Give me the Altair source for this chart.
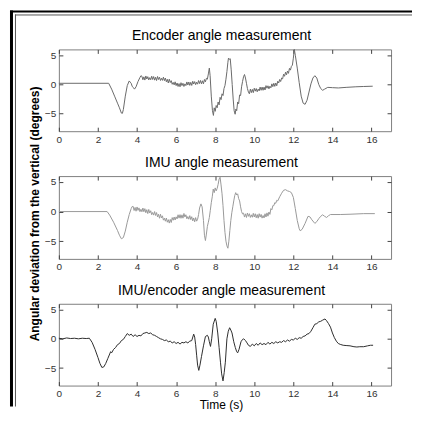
import altair as alt
import pandas as pd

# ---------------- data ----------------
ENCODER = [
    (0, 0.2), (2.55, 0.2), (2.7, -0.8), (2.85, -2.0), (3.0, -3.2), (3.1, -4.0), (3.2, -4.9),
    (3.25, -4.95), (3.3, -4.3), (3.4, -2.0), (3.5, -0.2), (3.6, 0.6), (3.65, 0.4), (3.7, 0.2),
    (3.75, -0.3), (3.8, -0.5), (3.87, -0.8), (3.95, -0.4), (4.05, 0.5), (4.15, 1.2), (4.2, 1.5),
    (4.25, 1.4), (4.3, 0.8), (4.35, 1.3), (4.4, 0.75), (4.45, 1.45), (4.5, 0.93), (4.55, 1.33),
    (4.6, 0.77), (4.65, 1.17), (4.7, 0.81), (4.75, 1.41), (4.8, 0.85), (4.85, 1.35), (4.9, 0.74),
    (4.95, 1.23), (5.0, 0.67), (5.05, 1.36), (5.1, 0.85), (5.15, 1.24), (5.2, 0.68), (5.25, 1.06),
    (5.3, 0.7), (5.35, 1.25), (5.4, 0.65), (5.45, 1.1), (5.5, 0.45), (5.55, 0.88), (5.6, 0.25),
    (5.65, 0.9), (5.7, 0.33), (5.75, 0.65), (5.8, 0.03), (5.85, 0.35), (5.9, -0.07), (5.95, 0.45),
    (6.0, -0.2), (6.05, 0.25), (6.1, -0.35), (6.15, 0.15), (6.2, -0.4), (6.25, 0.3), (6.3, -0.2),
    (6.35, 0.2), (6.4, -0.35), (6.45, 0.1), (6.5, -0.2), (6.55, 0.43), (6.6, -0.1), (6.65, 0.42),
    (6.7, -0.16), (6.75, 0.36), (6.8, -0.17), (6.85, 0.55), (6.9, 0.07), (6.95, 0.49), (7.0, -0.04),
    (7.05, 0.38), (7.1, 0.05), (7.15, 0.67), (7.2, 0.15), (7.25, 0.68), (7.3, 0.1), (7.35, 0.63),
    (7.4, 0.11), (7.45, 0.85), (7.5, 0.45), (7.55, 1.05), (7.6, 0.9), (7.65, 1.8), (7.7, 2.8),
    (7.74, 1.5), (7.8, -2.0), (7.86, -4.5), (7.91, -5.3), (7.95, -4.0), (8.0, -4.6), (8.05, -3.6),
    (8.1, -4.0), (8.15, -3.0), (8.2, -3.5), (8.25, -2.2), (8.3, -2.6), (8.35, -1.6), (8.4, -1.9),
    (8.45, -0.7), (8.5, -0.2), (8.55, 0.9), (8.6, 2.2), (8.65, 3.8), (8.68, 4.5), (8.72, 4.3),
    (8.77, 4.4), (8.82, 2.5), (8.87, 0.0), (8.92, -2.5), (8.97, -4.5), (9.02, -5.1), (9.06, -4.2),
    (9.1, -4.5), (9.15, -3.0), (9.2, -3.3), (9.25, -1.8), (9.3, -1.9), (9.35, -0.4), (9.4, 0.5),
    (9.45, 1.3), (9.5, 1.7), (9.55, 1.1), (9.6, 0.2), (9.65, -0.7), (9.7, -1.3), (9.75, -1.6),
    (9.8, -0.8), (9.85, -1.4), (9.9, -0.85), (9.95, -1.4), (10.0, -0.65), (10.05, -1.15),
    (10.1, -0.7), (10.15, -1.25), (10.2, -0.8), (10.25, -1.1), (10.3, -0.45), (10.35, -1.0),
    (10.4, -0.45), (10.45, -1.0), (10.5, -0.45), (10.55, -0.95), (10.6, -0.2), (10.65, -0.65),
    (10.7, -0.23), (10.75, -0.75), (10.8, -0.3), (10.85, -0.58), (10.9, 0.1), (10.95, -0.38),
    (11.0, 0.2), (11.05, -0.33), (11.1, 0.25), (11.15, -0.23), (11.2, 0.55), (11.25, 0.25),
    (11.3, 0.85), (11.35, 0.5), (11.4, 1.1), (11.45, 0.95), (11.5, 1.75), (11.55, 1.4),
    (11.6, 2.1), (11.65, 1.65), (11.7, 2.3), (11.75, 1.9), (11.8, 2.75), (11.85, 2.45),
    (11.9, 3.1), (11.95, 3.3), (12.0, 4.5), (12.05, 6.0), (12.1, 5.0), (12.2, 2.8), (12.3, 0.3),
    (12.4, -2.0), (12.5, -3.2), (12.6, -3.4), (12.7, -2.7), (12.8, -1.3), (12.9, 0.1), (13.0, 1.1),
    (13.1, 1.5), (13.2, 1.1), (13.3, 0.0), (13.4, -0.7), (13.5, -1.0), (13.6, -0.8), (13.76, -0.5),
    (14.0, -0.55), (14.3, -0.6), (14.7, -0.5), (15.2, -0.4), (15.6, -0.35), (16.06, -0.3),
]

IMU = [
    (0, 0.0), (2.47, 0.0), (2.6, -0.6), (2.8, -1.8), (3.0, -3.2), (3.1, -4.0), (3.2, -4.6),
    (3.3, -4.4), (3.4, -3.3), (3.5, -1.8), (3.6, -0.5), (3.7, 0.5), (3.75, 0.85),
    (3.8, 0.88), (3.85, 0.18), (3.9, 0.7), (3.95, 0.06), (4.0, 0.78), (4.05, 0.2), (4.1, 0.62),
    (4.15, -0.02), (4.2, 0.39), (4.25, -0.03), (4.3, 0.6), (4.35, -0.03), (4.4, 0.49), (4.45, -0.2),
    (4.5, 0.32), (4.55, -0.34), (4.6, 0.36), (4.65, -0.25), (4.7, 0.14), (4.75, -0.53), (4.8, -0.15),
    (4.85, -0.6), (4.9, 0.0), (4.95, -0.66), (5.0, -0.17), (5.05, -0.91), (5.1, -0.45), (5.15, -1.13),
    (5.2, -0.45), (5.25, -1.09), (5.3, -0.72), (5.35, -1.45), (5.4, -1.12), (5.45, -1.63),
    (5.5, -1.09), (5.55, -1.8), (5.6, -1.37), (5.65, -1.95), (5.7, -1.33), (5.75, -1.85),
    (5.8, -1.02), (5.85, -1.47), (5.9, -0.92), (5.95, -1.43), (6.0, -0.89), (6.05, -1.24),
    (6.1, -0.54), (6.15, -1.11), (6.2, -0.52), (6.25, -1.14), (6.3, -0.55), (6.35, -1.12),
    (6.4, -0.32), (6.45, -0.93), (6.5, -0.54), (6.55, -1.22), (6.6, -0.84), (6.65, -1.29),
    (6.7, -0.69), (6.75, -1.36), (6.8, -0.87), (6.85, -1.58), (6.9, -1.08), (6.95, -1.73),
    (7.0, -1.02), (7.05, -1.62), (7.1, -1.3), (7.15, -0.5), (7.2, 0.6), (7.27, 1.3), (7.33, 0.8),
    (7.4, -1.5), (7.45, -4.0), (7.5, -4.9), (7.55, -3.8), (7.6, -2.5), (7.65, -1.8), (7.7, -1.0),
    (7.75, 0.2), (7.8, 1.5), (7.85, 2.5), (7.9, 3.8), (7.95, 3.2), (8.0, 4.0), (8.05, 3.5),
    (8.1, 3.9), (8.15, 4.6), (8.2, 5.5), (8.25, 5.8), (8.3, 4.5), (8.35, 3.0), (8.4, 1.0),
    (8.45, -1.5), (8.5, -3.5), (8.55, -5.0), (8.6, -5.8), (8.65, -6.2), (8.7, -5.0), (8.75, -3.2),
    (8.8, -1.5), (8.85, -0.2), (8.9, 0.8), (8.95, 1.8), (9.0, 2.7), (9.05, 3.2), (9.1, 2.8),
    (9.15, 3.0), (9.2, 2.2), (9.25, 1.8), (9.3, 0.8), (9.35, 0.0), (9.4, -0.4),
    (9.45, -0.27), (9.5, -0.93), (9.55, -0.38), (9.6, -1.0), (9.65, -0.24), (9.7, -0.81),
    (9.75, -0.36), (9.8, -0.99), (9.85, -0.55), (9.9, -0.96), (9.95, -0.3), (10.0, -0.92),
    (10.05, -0.37), (10.1, -1.05), (10.15, -0.5), (10.2, -1.12), (10.25, -0.36), (10.3, -0.93),
    (10.35, -0.48), (10.4, -1.11), (10.45, -0.67), (10.5, -1.08), (10.55, -0.37), (10.6, -0.92),
    (10.65, -0.22), (10.7, -0.78), (10.75, -0.08), (10.8, -0.48), (10.85, 0.5), (10.9, 0.3),
    (10.95, 1.0), (11.0, 1.0), (11.05, 1.5), (11.1, 1.4), (11.15, 1.9), (11.2, 1.8), (11.3, 2.5),
    (11.4, 3.1), (11.5, 3.6), (11.6, 3.7), (11.7, 3.5), (11.8, 3.4), (11.9, 3.2), (12.0, 2.4),
    (12.1, 0.5), (12.2, -1.5), (12.3, -2.9), (12.35, -3.25), (12.45, -3.0), (12.6, -2.0),
    (12.75, -0.8), (12.85, -0.9), (12.95, -1.4), (13.1, -2.0), (13.2, -1.7), (13.3, -1.2),
    (13.4, -0.8), (13.5, -0.55), (13.6, -0.8), (13.7, -1.0), (13.8, -0.7), (13.9, -0.5),
    (14.4, -0.5), (14.9, -0.45), (15.6, -0.35), (16.17, -0.35),
]

FUSED = [
    (0, 0.1), (0.2, 0.0), (0.4, 0.15), (0.6, 0.05), (0.8, 0.1), (1.0, 0.0), (1.2, 0.1), (1.4, 0.05),
    (1.56, 0.1), (1.7, -0.6), (1.85, -1.8), (2.0, -3.2), (2.1, -4.2), (2.2, -4.9), (2.3, -4.8),
    (2.4, -4.2), (2.5, -3.4), (2.6, -2.6), (2.65, -2.2), (2.7, -2.4), (2.8, -1.8), (2.9, -1.5),
    (3.0, -1.0), (3.1, -0.8), (3.2, -0.3), (3.3, -0.1), (3.4, 0.4), (3.5, 0.9), (3.6, 0.6),
    (3.7, 0.8), (3.8, 0.4), (3.9, 0.7), (4.0, 0.4), (4.1, 0.6), (4.2, 0.5), (4.3, 0.9), (4.4, 1.0),
    (4.5, 1.1), (4.6, 0.9), (4.7, 1.0), (4.8, 0.7), (4.9, 0.6), (5.0, 0.4), (5.1, 0.2), (5.2, 0.0),
    (5.3, -0.1), (5.4, -0.3), (5.5, -0.2), (5.6, -0.5), (5.7, -0.4), (5.8, -0.7), (5.9, -0.5),
    (6.0, -0.8), (6.1, -0.6), (6.2, -0.9), (6.3, -0.6), (6.4, -0.7), (6.5, -0.5), (6.6, -0.7),
    (6.7, -0.4), (6.8, -0.3), (6.9, 0.8), (6.95, 0.3), (7.0, -1.0), (7.05, -2.8), (7.1, -4.5),
    (7.16, -5.4), (7.22, -4.5), (7.3, -3.0), (7.4, -1.2), (7.5, 0.4), (7.6, 0.6), (7.65, 0.3),
    (7.7, -0.5), (7.76, -1.3), (7.82, 0.0), (7.9, 2.5), (8.0, 3.5), (8.05, 3.0), (8.13, 1.0),
    (8.2, -1.5), (8.27, -4.0), (8.33, -6.0), (8.4, -7.2), (8.46, -5.8), (8.52, -4.0), (8.6, 0.0),
    (8.67, 1.3), (8.74, 1.9), (8.8, 1.5), (8.86, 1.0), (8.95, -0.5), (9.03, -1.5), (9.1, -2.2),
    (9.15, -2.4), (9.22, -1.8), (9.32, -0.5), (9.4, -0.1), (9.46, 0.0), (9.55, -0.3), (9.63, -0.7),
    (9.7, -1.1), (9.8, -1.3), (9.9, -0.9), (10.0, -1.2), (10.1, -0.8), (10.2, -1.1), (10.3, -0.7),
    (10.4, -1.0), (10.5, -0.8), (10.6, -1.0), (10.7, -0.6), (10.8, -0.9), (10.9, -0.6), (11.0, -0.8),
    (11.1, -0.5), (11.2, -0.7), (11.3, -0.5), (11.4, -0.6), (11.5, -0.3), (11.6, -0.5), (11.7, -0.2),
    (11.8, -0.4), (11.9, -0.1), (12.0, -0.2), (12.1, 0.1), (12.2, -0.1), (12.3, 0.2), (12.4, 0.1),
    (12.5, 0.4), (12.6, 0.5), (12.7, 0.8), (12.8, 0.9), (12.9, 1.3), (13.0, 1.9), (13.1, 2.5),
    (13.2, 2.6), (13.3, 2.9), (13.4, 3.0), (13.5, 3.2), (13.62, 3.4), (13.7, 3.1), (13.8, 2.6),
    (13.9, 2.0), (14.0, 1.0), (14.1, 0.2), (14.2, -0.4), (14.3, -0.8), (14.4, -0.95), (14.55, -1.1),
    (14.7, -1.15), (14.9, -1.2), (15.1, -1.35), (15.25, -1.4), (15.4, -1.35), (15.6, -1.35),
    (15.8, -1.2), (15.95, -1.1), (16.08, -1.1),
]

TITLES = ["Encoder angle measurement", "IMU angle measurement", "IMU/encoder angle measurement"]
LINE_COLORS = ["#6a6a6a", "#9a9a9a", "#2e2e2e"]
X_TICKS = [0, 2, 4, 6, 8, 10, 12, 14, 16]
Y_TICKS = [-5, 0, 5]
X_DOMAIN = [0, 17]
Y_DOMAIN = [-8, 6]
Y_LABEL = "Angular deviation from the vertical (degrees)"
X_LABEL = "Time (s)"

# ---------------- layout ----------------
W = 333
HEIGHTS = [82, 83, 82]
FONT = "Liberation Sans"
ONE = pd.DataFrame({"k": [0]})


def hrule(x, x2, y, w, c):
    return alt.Chart(ONE).mark_rule(strokeWidth=w, color=c).encode(
        x=alt.value(x), x2=alt.value(x2), y=alt.value(y)
    )


def vrule(x, y, y2, w, c):
    return alt.Chart(ONE).mark_rule(strokeWidth=w, color=c).encode(
        x=alt.value(x), y=alt.value(y), y2=alt.value(y2)
    )


def label(txt, x, y, size, weight="normal", angle=0):
    return alt.Chart(pd.DataFrame({"s": [txt]})).mark_text(
        fontSize=size, font=FONT, fontWeight=weight, align="center",
        baseline="alphabetic" if angle == 0 else "middle", angle=angle, color="black"
    ).encode(x=alt.value(x), y=alt.value(y), text="s:N")


def panel(pairs, color, title, h, extras):
    df = pd.DataFrame(pairs, columns=["t", "y"])
    xs = alt.Scale(domain=X_DOMAIN, nice=False, zero=False)
    ys = alt.Scale(domain=Y_DOMAIN, nice=False, zero=False)
    common = dict(offset=-4, tickSize=4, domain=False, grid=False, title=None, labelFlush=False)
    base = alt.Chart(df)
    main = base.mark_line(color=color, strokeWidth=1).encode(
        x=alt.X("t:Q", scale=xs, axis=alt.Axis(orient="bottom", values=X_TICKS, labelPadding=3,
                                                labelAngle=0, **common)),
        y=alt.Y("y:Q", scale=ys, axis=alt.Axis(orient="left", values=Y_TICKS, labelPadding=3,
                                                labelAngle=0, **common)),
    )
    mirror = base.mark_line(opacity=0).encode(
        x=alt.X("t:Q", scale=xs, axis=alt.Axis(orient="top", values=X_TICKS, labels=False, **common)),
        y=alt.Y("y:Q", scale=ys, axis=alt.Axis(orient="right", values=Y_TICKS, labels=False, **common)),
    )
    ttl = label(title, 163, -9, 14)
    return alt.layer(main, mirror, ttl, *extras).resolve_axis(
        x="independent", y="independent"
    ).properties(width=W, height=h)


# decorative double frame (relative to the first plot's corner)
border = [
    vrule(-47.5, -39, 358, 3, "black"),
    hrule(-49, 354, -38, 2, "black"),
    hrule(-44, 354, -34.5, 1, "#555"),
    vrule(-43.5, -35, 358, 1, "#555"),
]

p1 = panel(ENCODER, LINE_COLORS[0], TITLES[0], HEIGHTS[0], border)
p2 = panel(IMU, LINE_COLORS[1], TITLES[1], HEIGHTS[1], [label(Y_LABEL, -24, 38, 12, "bold", 270)])
p3 = panel(FUSED, LINE_COLORS[2], TITLES[2], HEIGHTS[2], [label(X_LABEL, 163, HEIGHTS[2] + 23, 12)])

chart = alt.vconcat(p1, p2, p3, spacing=45, bounds="flush").properties(
    padding={"left": 0, "top": 0, "right": 0, "bottom": 0},
    autosize=alt.AutoSizeParams(type="pad", contains="content"),
    background="white",
).configure_view(stroke="#808080", strokeWidth=1).configure_axis(
    labelFont=FONT, labelFontSize=10, labelColor="#333", tickColor="#444", tickWidth=1
)

chart.save("out.html", embed_options={"renderer": "svg", "actions": False})
